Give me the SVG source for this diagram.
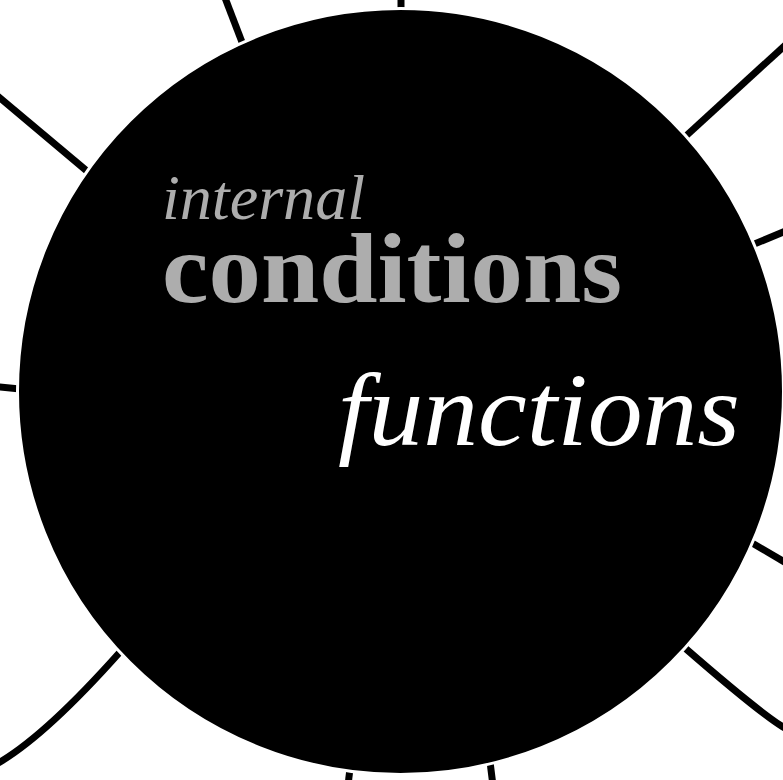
<svg xmlns="http://www.w3.org/2000/svg" width="783" height="780" viewBox="0 0 783 780">
  <style>
    .edge { fill: none; stroke: #000; stroke-width: 7; stroke-linecap: butt; }
    .node { fill: #000; stroke: #fff; stroke-width: 3; }
    .t { font-family: "Liberation Serif", "DejaVu Serif", serif; }
    .ital { font-style: italic; }
    .bold { font-weight: bold; }
  </style>
  <rect width="783" height="780" fill="#fff"/>
  <g id="connectors">
    <path class="edge" d="M 401 -10 L 401 40"/>
    <path class="edge" d="M 222 -10 L 250 63"/>
    <path class="edge" d="M -10 89.6 L 100 182"/>
    <path class="edge" d="M 793 38 L 675 146"/>
    <path class="edge" d="M 793 228 L 740 250"/>
    <path class="edge" d="M -10 386 L 30 390"/>
    <path class="edge" d="M 793 567 L 742 537"/>
    <path class="edge" d="M 670 635 L 685 648 Q 758 711.5 783 727 L 795 734"/>
    <path class="edge" d="M 130 641 L 120 652 Q 47 734 0 762 L -12 769"/>
    <path class="edge" d="M 351.5 755 L 347.5 790"/>
    <path class="edge" d="M 488 745 L 493.5 790"/>
  </g>
  <g id="node-functions">
    <circle class="node" cx="400.5" cy="391.5" r="383"/>
    <text class="t ital" x="162" y="219" font-size="64" fill="#adadad" textLength="203" lengthAdjust="spacingAndGlyphs">internal</text>
    <text class="t bold" x="162" y="302" font-size="100" fill="#adadad" textLength="460" lengthAdjust="spacingAndGlyphs">conditions</text>
    <text class="t ital" x="338" y="445" font-size="104" fill="#fff" textLength="402" lengthAdjust="spacingAndGlyphs">functions</text>
  </g>
</svg>
